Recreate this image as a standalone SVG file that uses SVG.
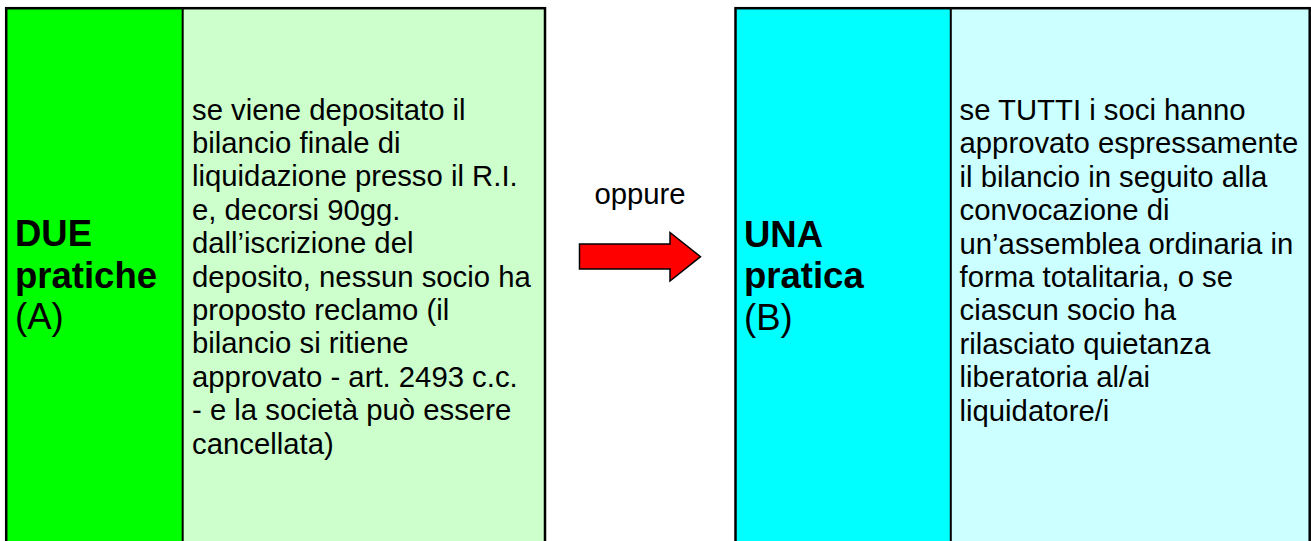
<svg xmlns="http://www.w3.org/2000/svg" width="1311" height="541" viewBox="0 0 1311 541">
<style>
  .body { font-family: "Liberation Sans", Arial, sans-serif; font-size: 29.3px; fill: #000; }
  .lbl { font-family: "Liberation Sans", Arial, sans-serif; font-size: 36.5px; fill: #000; }
  .b { font-weight: bold; }
  .frame { fill: none; stroke: #000; stroke-width: 2.5; }
  .div { stroke: #000; stroke-width: 2; }
</style>
<rect width="1311" height="541" fill="#ffffff"/>
<g id="node-A">
  <rect x="6" y="8" width="177" height="560" fill="#00ff00"/>
  <rect x="183" y="8" width="362" height="560" fill="#ccffcc"/>
  <line class="div" x1="182.7" y1="8" x2="182.7" y2="568"/>
  <rect class="frame" x="6.2" y="8.2" width="538.8" height="560"/>
  <text class="lbl b" x="15" y="246">DUE</text>
  <text class="lbl b" x="15" y="287.5">pratiche</text>
  <text class="lbl" x="15" y="329">(A)</text>
  <text class="body">
    <tspan x="192" y="119.5">se viene depositato il</tspan>
    <tspan x="192" y="152.9">bilancio finale di</tspan>
    <tspan x="192" y="186.3">liquidazione presso il R.I.</tspan>
    <tspan x="192" y="219.7">e, decorsi 90gg.</tspan>
    <tspan x="192" y="253.1">dall’iscrizione del</tspan>
    <tspan x="192" y="286.5">deposito, nessun socio ha</tspan>
    <tspan x="192" y="319.9">proposto reclamo (il</tspan>
    <tspan x="192" y="353.3">bilancio si ritiene</tspan>
    <tspan x="192" y="386.7">approvato - art. 2493 c.c.</tspan>
    <tspan x="192" y="420.1">- e la società può essere</tspan>
    <tspan x="192" y="453.5">cancellata)</tspan>
  </text>
</g>
<g id="node-B">
  <rect x="735.5" y="8" width="215.5" height="560" fill="#00ffff"/>
  <rect x="951" y="8" width="359" height="560" fill="#ccffff"/>
  <line class="div" x1="950.8" y1="8" x2="950.8" y2="568"/>
  <rect class="frame" x="735.5" y="8.2" width="574.2" height="560"/>
  <text class="lbl b" x="744" y="246.5">UNA</text>
  <text class="lbl b" x="744" y="288">pratica</text>
  <text class="lbl" x="744" y="329.5">(B)</text>
  <text class="body">
    <tspan x="959.5" y="120">se TUTTI i soci hanno</tspan>
    <tspan x="959.5" y="153.4">approvato espressamente</tspan>
    <tspan x="959.5" y="186.8">il bilancio in seguito alla</tspan>
    <tspan x="959.5" y="220.2">convocazione di</tspan>
    <tspan x="959.5" y="253.6">un’assemblea ordinaria in</tspan>
    <tspan x="959.5" y="287">forma totalitaria, o se</tspan>
    <tspan x="959.5" y="320.4">ciascun socio ha</tspan>
    <tspan x="959.5" y="353.8">rilasciato quietanza</tspan>
    <tspan x="959.5" y="387.2">liberatoria al/ai</tspan>
    <tspan x="959.5" y="420.6">liquidatore/i</tspan>
  </text>
</g>
<g id="connectors">
  <polygon points="579.5,244 670,244 670,232.5 700.5,256.7 670,281 670,269 579.5,269" fill="#ff0000" stroke="#000" stroke-width="1.5" stroke-linejoin="miter"/>
  <text class="body" x="640" y="204" text-anchor="middle">oppure</text>
</g>
</svg>
